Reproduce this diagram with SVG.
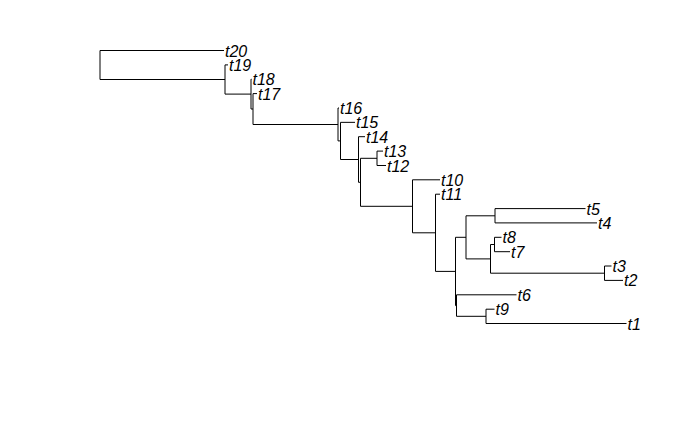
<svg xmlns="http://www.w3.org/2000/svg" width="700" height="432" viewBox="0 0 700 432">
<style>
.e{fill:none;stroke:#000;stroke-width:1}
.l{font-family:"Liberation Sans",Arial,sans-serif;font-style:italic;font-size:16px;fill:#000}
</style>
<rect width="700" height="432" fill="#fff"/>
<g id="connectors" class="e">
<path d="M100 50.5V79.5M100 50.5H224M100 79.5H225"/>
<path d="M225 64.9V94.1M225 64.9H228M225 94.1H251"/>
<path d="M251 79.2V109M251 79.2H251.5M251 109H253"/>
<path d="M253 93.6V124.5M253 93.6H257M253 124.5H338"/>
<path d="M338 108V140.9M338 108H339M338 140.9H340.5"/>
<path d="M340.5 122.35V159.5M340.5 122.35H355M340.5 159.5H358.5"/>
<path d="M358.5 136.7V182.3M358.5 136.7H365M358.5 182.3H360.5"/>
<path d="M360.5 158.3V206.3M360.5 158.3H377M360.5 206.3H412.5"/>
<path d="M377 151.1V165.5M377 151.1H383M377 165.5H386"/>
<path d="M412.5 179.8V232.8M412.5 179.8H440M412.5 232.8H435.5"/>
<path d="M435.5 194.2V271.4M435.5 194.2H440M435.5 271.4H455.5"/>
<path d="M455.5 237.3V305.6M455.5 237.3H466M455.5 305.6H456.5"/>
<path d="M466 215.8V258.9M466 215.8H495M466 258.9H490.5"/>
<path d="M495 208.6V222.9M495 208.6H585.5M495 222.9H597"/>
<path d="M490.5 244.5V273.2M490.5 244.5H494.5M490.5 273.2H604.5"/>
<path d="M494.5 237.3V251.7M494.5 237.3H501.5M494.5 251.7H510"/>
<path d="M604.5 266V280.4M604.5 266H611.5M604.5 280.4H623"/>
<path d="M456.5 294.8V316.3M456.5 294.8H516.5M456.5 316.3H486"/>
<path d="M486 309.2V323.5M486 309.2H494.5M486 323.5H626.5"/>
</g>
<g id="t20"><text class="l" x="225" y="56.5">t20</text></g>
<g id="t19"><text class="l" x="229" y="70.9">t19</text></g>
<g id="t18"><text class="l" x="252.5" y="85.2">t18</text></g>
<g id="t17"><text class="l" x="258" y="99.6">t17</text></g>
<g id="t16"><text class="l" x="340" y="114">t16</text></g>
<g id="t15"><text class="l" x="356" y="128.4">t15</text></g>
<g id="t14"><text class="l" x="366" y="142.7">t14</text></g>
<g id="t13"><text class="l" x="384" y="157.1">t13</text></g>
<g id="t12"><text class="l" x="387" y="171.5">t12</text></g>
<g id="t10"><text class="l" x="441" y="185.8">t10</text></g>
<g id="t11"><text class="l" x="441" y="200.2">t11</text></g>
<g id="t5"><text class="l" x="586.5" y="214.6">t5</text></g>
<g id="t4"><text class="l" x="598" y="228.9">t4</text></g>
<g id="t8"><text class="l" x="502.5" y="243.3">t8</text></g>
<g id="t7"><text class="l" x="511" y="257.7">t7</text></g>
<g id="t3"><text class="l" x="612.5" y="272">t3</text></g>
<g id="t2"><text class="l" x="624" y="286.4">t2</text></g>
<g id="t6"><text class="l" x="517.5" y="300.8">t6</text></g>
<g id="t9"><text class="l" x="495.5" y="315.2">t9</text></g>
<g id="t1"><text class="l" x="627.5" y="329.5">t1</text></g>
</svg>
